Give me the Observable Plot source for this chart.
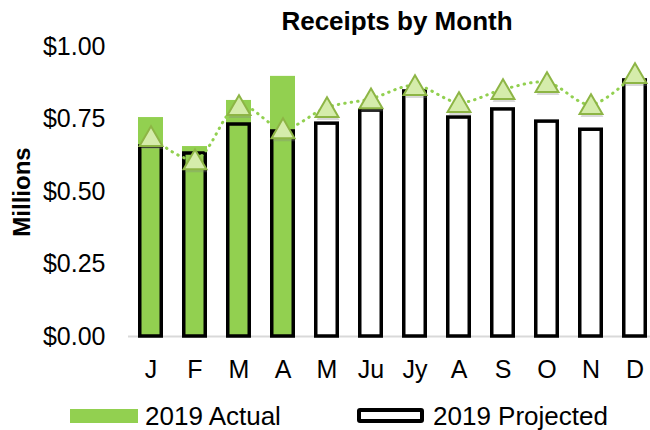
<!DOCTYPE html>
<html><head><meta charset="utf-8">
<script src="https://cdn.jsdelivr.net/npm/d3@7"></script>
<script src="https://cdn.jsdelivr.net/npm/@observablehq/plot@0.6"></script>
<style>
body{margin:0;background:#fff;font-family:"Liberation Sans",Arial,sans-serif;color:#000;}
#wrap{position:relative;width:650px;height:430px;overflow:hidden;}
#chart{position:absolute;left:0;top:0;}
#title{position:absolute;left:0;top:7px;width:650px;padding-left:144px;box-sizing:border-box;text-align:center;font-weight:bold;font-size:26px;line-height:29px;}
#ylab{position:absolute;left:22px;top:192px;transform:translate(-50%,-50%) rotate(-90deg);font-weight:bold;font-size:24px;line-height:28px;white-space:nowrap;}
.sw{position:absolute;box-sizing:border-box;}
.lt{position:absolute;font-size:26px;line-height:30px;white-space:nowrap;}
</style>
</head><body>
<div id="wrap">
  <div id="chart"></div>
  <div id="title"></div>
  <div id="ylab"></div>
  <div class="sw" style="left:70px;top:409px;width:68px;height:14px;background:#92D050;"></div>
  <div class="lt" id="lt1" style="left:145px;top:401px;"></div>
  <div class="sw" style="left:357px;top:408px;width:67px;height:15px;border:4px solid #000;border-radius:3px;background:#fff;"></div>
  <div class="lt" id="lt2" style="left:433px;top:401px;"></div>
</div>
<script>
const titleText = "Receipts by Month";
const yLabel = "Millions";
const monthKeys = ["Jan","Feb","Mar","Apr","May","Jun","Jul","Aug","Sep","Oct","Nov","Dec"];
const monthLabels = ["J","F","M","A","M","Ju","Jy","A","S","O","N","D"];
const actual = [0.755, 0.655, 0.814, 0.897];
const projected = [0.655, 0.631, 0.731, 0.707, 0.734, 0.779, 0.845, 0.755, 0.783, 0.741, 0.713, 0.883];
const trend = [0.69, 0.61, 0.797, 0.717, 0.79, 0.82, 0.866, 0.807, 0.852, 0.876, 0.80, 0.907];
const yTicks = [0, 0.25, 0.5, 0.75, 1];
const seriesNames = ["2019 Actual", "2019 Projected"];

document.getElementById("title").textContent = titleText;
document.getElementById("ylab").textContent = yLabel;
document.getElementById("lt1").textContent = seriesNames[0];
document.getElementById("lt2").textContent = seriesNames[1];

const actualData = actual.map((v, i) => ({month: monthKeys[i], value: v}));
const projData = projected.map((v, i) => ({month: monthKeys[i], value: v}));
const trendData = trend.map((v, i) => ({month: monthKeys[i], value: v}));

const chart = Plot.plot({
  width: 650,
  height: 395,
  marginLeft: 128,
  marginRight: 0,
  marginTop: 36,
  marginBottom: 59,
  style: {fontFamily: "'Liberation Sans', Arial, sans-serif", fontSize: "25px", color: "#000", background: "transparent"},
  x: {type: "band", domain: monthKeys, range: [128, 658], paddingInner: 0.43, paddingOuter: 0.215,
      tickSize: 0, tickPadding: 24, label: null, tickFormat: (d) => monthLabels[monthKeys.indexOf(d)]},
  y: {domain: [0, 1], range: [336, 46], ticks: yTicks, tickSize: 0, tickPadding: 23,
      tickFormat: d3.format("$.2f"), label: null},
  marks: [
    Plot.ruleY([0], {stroke: "#d9d9d9", strokeWidth: 2}),
    Plot.barY(actualData, {x: "month", y: "value", fill: "#92D050"}),
    Plot.barY(projData, {x: "month", y: "value", fill: "none", stroke: "#000", strokeWidth: 3.5, insetLeft: 1.75, insetRight: 1.75}),
    Plot.line(trendData, {x: "month", y: "value", stroke: "#92D050", strokeWidth: 3, strokeDasharray: "0.5 6", strokeLinecap: "round", curve: "catmull-rom"}),
    Plot.dot(trendData, {x: "month", y: "value", symbol: "triangle", r: 8.5, fill: "#808080", fillOpacity: 0.3, dx: 1, dy: 6}),
    Plot.dot(trendData, {x: "month", y: "value", symbol: "triangle", r: 8.5, fill: "#d5ecab", stroke: "#8db545", strokeWidth: 2, dy: 3})
  ]
});
document.getElementById("chart").appendChild(chart);
</script>
</body></html>
